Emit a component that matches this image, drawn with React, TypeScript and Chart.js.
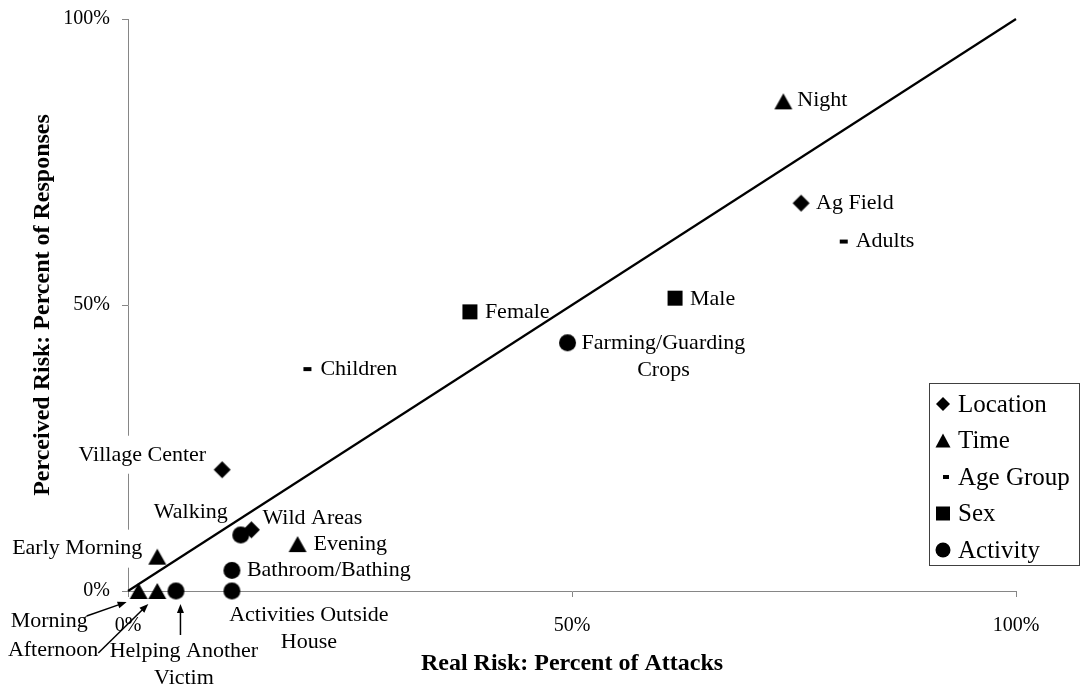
import React, { useEffect, useRef } from 'react';
import { Chart, registerables } from 'chart.js';

Chart.register(...registerables);

// ---------------- DATA ----------------
const seriesNames = ['Location', 'Time', 'Age Group', 'Sex', 'Activity'];

const locationNames = ['Ag Field', 'Village Center', 'Wild Areas'];
const locationX = [75.8, 10.6, 13.9];
const locationY = [67.8, 21.2, 10.7];

const timeNames = ['Night', 'Evening', 'Early Morning', 'Morning', 'Afternoon'];
const timeX = [73.8, 19.1, 3.3, 1.2, 3.3];
const timeY = [85.6, 8.2, 6.0, 0, 0];

const ageNames = ['Adults', 'Children'];
const ageX = [80.6, 20.2];
const ageY = [61.1, 38.8];

const sexNames = ['Male', 'Female'];
const sexX = [61.6, 38.5];
const sexY = [51.2, 48.8];

const activityNames = ['Farming/Guarding Crops', 'Walking', 'Bathroom/Bathing', 'Activities Outside House', 'Helping Another Victim'];
const activityX = [49.5, 12.7, 11.7, 11.7, 5.4];
const activityY = [43.4, 9.8, 3.6, 0, 0];

const refLineX = [0, 100];
const refLineY = [0, 100];

const xTickLabels = ['0%', '50%', '100%'];
const yTickLabels = ['0%', '50%', '100%'];

const xTitle = 'Real Risk: Percent of Attacks';
const yTitle = 'Perceived Risk: Percent of Responses';

// ---------------- STYLE / LAYOUT ----------------
const FONT = '"Liberation Serif", "Times New Roman", serif';
const AXIS_GRAY = '#868686';

type Shape = 'diamond' | 'triangle' | 'dash' | 'square' | 'circle';
const seriesShapes: Shape[] = ['diamond', 'triangle', 'dash', 'square', 'circle'];
const markerSize: Record<Shape, [number, number]> = {
  diamond: [17, 17],
  triangle: [18, 16],
  dash: [8, 4],
  square: [15, 15],
  circle: [17, 17],
};
const legendMarkerSize: Record<Shape, [number, number]> = {
  diamond: [14, 14],
  triangle: [15, 14],
  dash: [6, 4],
  square: [14, 14],
  circle: [15, 15],
};

type Place = {
  dx: number;
  dy: number;
  align: 'left' | 'right' | 'center';
  wrap?: number;
  box?: boolean;
  arrow?: [number, number, number, number];
};
const LABEL_LH = 27;
const PLACE: Record<string, Place> = {
  'Night': { dx: 14, dy: -1, align: 'left' },
  'Ag Field': { dx: 15, dy: 0, align: 'left' },
  'Adults': { dx: 12, dy: 0, align: 'left' },
  'Male': { dx: 15, dy: 1, align: 'left' },
  'Female': { dx: 15, dy: 0, align: 'left' },
  'Farming/Guarding Crops': { dx: 14, dy: 0, align: 'left', wrap: 175 },
  'Children': { dx: 13, dy: 0, align: 'left' },
  'Village Center': { dx: -16, dy: -15, align: 'right', box: true },
  'Wild Areas': { dx: 11, dy: -12, align: 'left' },
  'Walking': { dx: -13, dy: -23, align: 'right' },
  'Evening': { dx: 16, dy: 0, align: 'left' },
  'Bathroom/Bathing': { dx: 15, dy: 0, align: 'left' },
  'Early Morning': { dx: -15, dy: -8, align: 'right', box: true },
  'Activities Outside House': { dx: 77, dy: 24, align: 'center', wrap: 175 },
  'Helping Another Victim': { dx: 8, dy: 60, align: 'center', wrap: 175, arrow: [4.5, 44, 4.5, 13] },
  'Morning': { dx: -51, dy: 30, align: 'right', arrow: [-52, 25, -12, 11] },
  'Afternoon': { dx: -59, dy: 59, align: 'right', arrow: [-59, 62, -9, 13] },
};

const LEGEND = { left: 929, top: 383, right: 1079, bottom: 565, markerX: 943, textX: 958, firstY: 404, rowH: 36.5 };

// ---------------- HELPERS ----------------
function drawMarker(ctx: CanvasRenderingContext2D, shape: Shape, x: number, y: number, w: number, h: number) {
  ctx.beginPath();
  switch (shape) {
    case 'diamond':
      ctx.moveTo(x, y - h / 2);
      ctx.lineTo(x + w / 2, y);
      ctx.lineTo(x, y + h / 2);
      ctx.lineTo(x - w / 2, y);
      ctx.closePath();
      break;
    case 'triangle':
      ctx.moveTo(x, y - h / 2);
      ctx.lineTo(x + w / 2, y + h / 2);
      ctx.lineTo(x - w / 2, y + h / 2);
      ctx.closePath();
      break;
    case 'dash':
    case 'square':
      ctx.rect(x - w / 2, y - h / 2, w, h);
      break;
    case 'circle':
      ctx.arc(x, y, w / 2, 0, Math.PI * 2);
      break;
  }
  ctx.fillStyle = '#000';
  ctx.fill();
}

function markerCanvas(shape: Shape): HTMLCanvasElement {
  const [w, h] = markerSize[shape];
  const c = document.createElement('canvas');
  c.width = w + 2;
  c.height = h + 2;
  const ctx = c.getContext('2d')!;
  drawMarker(ctx, shape, c.width / 2, c.height / 2, w, h);
  return c;
}

function wrapText(ctx: CanvasRenderingContext2D, text: string, maxW?: number): string[] {
  if (!maxW) return [text];
  const words = text.split(' ');
  const lines: string[] = [];
  let cur = '';
  for (const w of words) {
    const test = cur ? cur + ' ' + w : w;
    if (cur && ctx.measureText(test).width > maxW) {
      lines.push(cur);
      cur = w;
    } else cur = test;
  }
  if (cur) lines.push(cur);
  return lines;
}

function drawArrow(ctx: CanvasRenderingContext2D, x1: number, y1: number, x2: number, y2: number) {
  const ang = Math.atan2(y2 - y1, x2 - x1);
  const head = 9;
  const hw = 3.5;
  ctx.strokeStyle = '#000';
  ctx.lineWidth = 1.5;
  ctx.beginPath();
  ctx.moveTo(x1, y1);
  ctx.lineTo(x2 - Math.cos(ang) * head * 0.8, y2 - Math.sin(ang) * head * 0.8);
  ctx.stroke();
  ctx.beginPath();
  ctx.moveTo(x2, y2);
  ctx.lineTo(x2 - Math.cos(ang) * head + Math.sin(ang) * hw, y2 - Math.sin(ang) * head - Math.cos(ang) * hw);
  ctx.lineTo(x2 - Math.cos(ang) * head - Math.sin(ang) * hw, y2 - Math.sin(ang) * head + Math.cos(ang) * hw);
  ctx.closePath();
  ctx.fillStyle = '#000';
  ctx.fill();
}

const labelPlugin = {
  id: 'pointLabels',
  afterDatasetsDraw(chart: any) {
    const ctx: CanvasRenderingContext2D = chart.ctx;
    ctx.save();
    ctx.font = `22px ${FONT}`;
    ctx.textBaseline = 'middle';
    ctx.textAlign = 'center';
    chart.data.datasets.forEach((ds: any, di: number) => {
      if (ds.isRefLine) return;
      const meta = chart.getDatasetMeta(di);
      meta.data.forEach((pt: any, i: number) => {
        const name: string = ds.data[i].name;
        const p: Place = PLACE[name] || { dx: 14, dy: 0, align: 'left' };
        const lines = wrapText(ctx, name, p.wrap);
        const bw = Math.max(...lines.map((l) => ctx.measureText(l).width));
        const ax = pt.x + p.dx;
        const ay = pt.y + p.dy;
        const left = p.align === 'left' ? ax : p.align === 'right' ? ax - bw : ax - bw / 2;
        const cx = left + bw / 2;
        if (p.box) {
          ctx.fillStyle = '#fff';
          ctx.fillRect(left - 5, ay - 19, bw + 10, 38 + (lines.length - 1) * LABEL_LH);
        }
        ctx.fillStyle = '#000';
        lines.forEach((l, k) => ctx.fillText(l, cx, ay + k * LABEL_LH));
        if (p.arrow) {
          const a = p.arrow;
          drawArrow(ctx, pt.x + a[0], pt.y + a[1], pt.x + a[2], pt.y + a[3]);
        }
      });
    });
    ctx.restore();
  },
};

const legendPlugin = {
  id: 'boxLegend',
  afterDraw(chart: any) {
    const ctx: CanvasRenderingContext2D = chart.ctx;
    ctx.save();
    ctx.fillStyle = '#fff';
    ctx.fillRect(LEGEND.left, LEGEND.top, LEGEND.right - LEGEND.left, LEGEND.bottom - LEGEND.top);
    ctx.strokeStyle = '#404040';
    ctx.lineWidth = 1;
    ctx.strokeRect(LEGEND.left + 0.5, LEGEND.top + 0.5, LEGEND.right - LEGEND.left, LEGEND.bottom - LEGEND.top);
    ctx.font = `25px ${FONT}`;
    ctx.textBaseline = 'middle';
    ctx.textAlign = 'left';
    let row = 0;
    chart.data.datasets.forEach((ds: any) => {
      if (ds.isRefLine) return;
      const y = LEGEND.firstY + row * LEGEND.rowH;
      const shape: Shape = ds.shape;
      const [w, h] = legendMarkerSize[shape];
      drawMarker(ctx, shape, LEGEND.markerX + (shape === 'dash' ? 3 : 0), y, w, h);
      ctx.fillStyle = '#000';
      ctx.fillText(ds.label, LEGEND.textX, y + 1);
      row++;
    });
    ctx.restore();
  },
};

function pts(names: string[], xs: number[], ys: number[]) {
  return names.map((n, i) => ({ x: xs[i], y: ys[i], name: n }));
}

export default function App() {
  const ref = useRef<HTMLCanvasElement>(null);
  useEffect(() => {
    document.body.style.margin = '0';
    const groups = [
      pts(locationNames, locationX, locationY),
      pts(timeNames, timeX, timeY),
      pts(ageNames, ageX, ageY),
      pts(sexNames, sexX, sexY),
      pts(activityNames, activityX, activityY),
    ];
    const datasets: any[] = groups.map((data, i) => ({
      type: 'scatter',
      label: seriesNames[i],
      shape: seriesShapes[i],
      data,
      pointStyle: markerCanvas(seriesShapes[i]),
      pointRadius: 8,
      pointHoverRadius: 8,
      clip: false,
    }));
    datasets.push({
      type: 'line',
      label: 'ref',
      isRefLine: true,
      data: refLineX.map((x, i) => ({ x, y: refLineY[i] })),
      borderColor: '#000',
      borderWidth: 2.2,
      pointRadius: 0,
      fill: false,
      clip: false,
    });

    const chart = new Chart(ref.current!, {
      type: 'scatter',
      data: { datasets },
      options: {
        responsive: false,
        animation: false,
        events: [],
        layout: { padding: { top: 19, right: 66, left: 0, bottom: 0 } },
        plugins: { legend: { display: false }, tooltip: { enabled: false } },
        scales: {
          x: {
            type: 'linear',
            min: 0,
            max: 100,
            afterFit: (s: any) => {
              s.height = 93;
              s.paddingLeft = 0;
              s.paddingRight = 0;
            },
            ticks: {
              stepSize: 50,
              padding: 17,
              color: '#000',
              font: { family: FONT, size: 20 },
              callback: (_v: any, i: number) => xTickLabels[i],
            },
            grid: { display: true, drawOnChartArea: false, drawTicks: true, tickLength: 6, color: AXIS_GRAY },
            border: { display: true, color: AXIS_GRAY, width: 1 },
            title: {
              display: true,
              text: xTitle,
              color: '#000',
              font: { family: FONT, size: 24, weight: 'bold' },
              padding: { top: 0, bottom: 6 },
            },
          },
          y: {
            type: 'linear',
            min: 0,
            max: 100,
            afterFit: (s: any) => {
              s.width = 128;
              s.paddingTop = 0;
              s.paddingBottom = 0;
            },
            ticks: {
              stepSize: 50,
              padding: 12,
              color: '#000',
              font: { family: FONT, size: 20 },
              callback: (_v: any, i: number) => yTickLabels[i],
            },
            grid: { display: true, drawOnChartArea: false, drawTicks: true, tickLength: 6, color: AXIS_GRAY },
            border: { display: true, color: AXIS_GRAY, width: 1 },
            title: {
              display: true,
              text: yTitle,
              color: '#000',
              font: { family: FONT, size: 24, weight: 'bold' },
              padding: { top: 28, bottom: 0 },
            },
          },
        },
      },
      plugins: [labelPlugin, legendPlugin],
    } as any);
    return () => chart.destroy();
  }, []);
  return (
    <div style={{ width: 1082, height: 684, background: '#fff' }}>
      <canvas ref={ref} width={1082} height={684} style={{ display: 'block' }} />
    </div>
  );
}
